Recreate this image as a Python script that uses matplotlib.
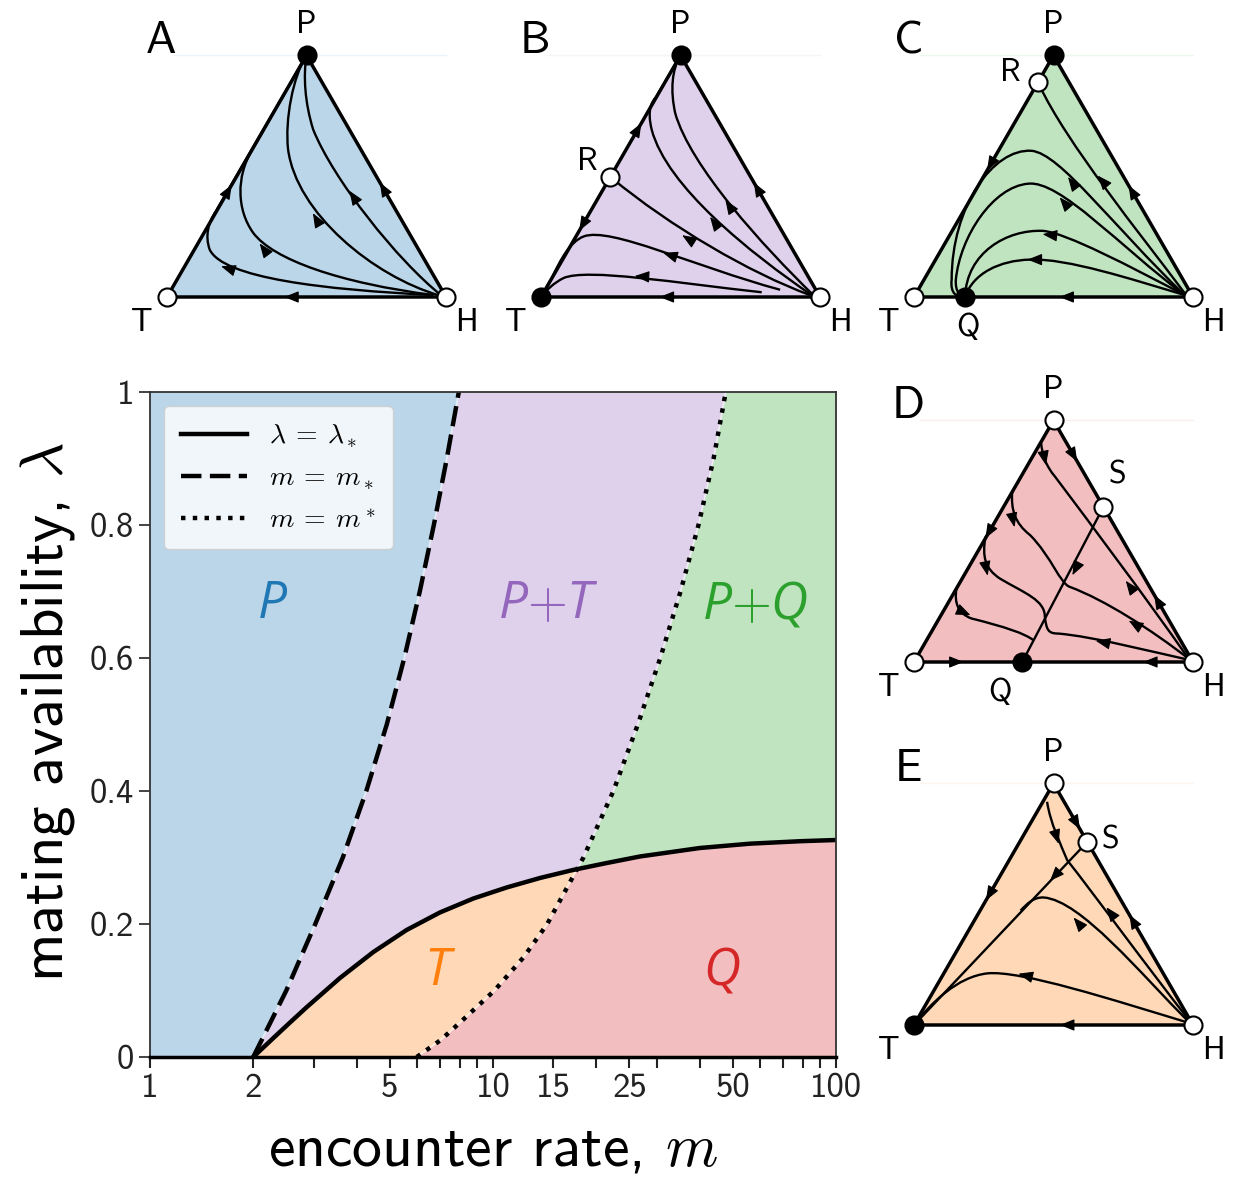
import matplotlib
matplotlib.use('Agg')
import matplotlib.pyplot as plt
import numpy as np
from matplotlib.path import Path
from matplotlib.patches import PathPatch
from matplotlib.colors import to_rgb
from matplotlib.ticker import LogLocator, NullFormatter
from matplotlib import font_manager

plt.rcParams['font.family'] = ['cmss10', 'DejaVu Sans']
plt.rcParams['mathtext.fontset'] = 'cm'
plt.rcParams['axes.unicode_minus'] = False

# --- main diagram data ---
lam_star_m = [2.0, 2.29, 2.56, 2.86, 3.58, 4.48, 5.6, 7.0, 8.76, 10.96, 13.71, 17.1,
              21.45, 26.8, 40.1, 56.2, 78.6, 100]
lam_star_val = [0, 0.0286, 0.0519, 0.0747, 0.1188, 0.1579, 0.191, 0.2173, 0.2383, 0.2549,
                0.2692, 0.2812, 0.2917, 0.3015, 0.3143, 0.3208, 0.3245, 0.3263]

m_low_m = [2.0, 2.497, 3.033, 3.649, 4.272, 4.901, 5.512, 6.117, 6.722, 7.334, 7.949]
m_low_lam = [0, 0.1, 0.2, 0.3, 0.4, 0.5, 0.6, 0.7, 0.8, 0.9, 1.0]

m_up_m = [5.994, 7.018, 7.943, 10.10, 12.28, 14.39, 18.35, 22.44, 26.44, 30.74, 35.21,
          39.73, 43.97, 47.70]
m_up_lam = [0, 0.025, 0.05, 0.1, 0.15, 0.2, 0.3, 0.4, 0.5, 0.6, 0.7, 0.8, 0.9, 1.0]

region_names = ['P', 'P$+$T', 'P$+$Q', 'T', 'Q']
region_m = [2.27, 14.5, 58.0, 6.87, 46.5]
region_lam = [0.68, 0.68, 0.68, 0.128, 0.128]
region_colors = ['tab:blue', 'tab:purple', 'tab:green', 'tab:orange', 'tab:red']

x_ticks = [1, 2, 5, 10, 15, 25, 50, 100]
y_ticks = [0, 0.2, 0.4, 0.6, 0.8, 1]
y_ticklabels = ['0', '0.2', '0.4', '0.6', '0.8', '1']

# --- simplex panels: flows are cubic bezier pieces in triangle coords ---
# T=(0,0), H=(1,0), P=(0.5,0.866)
A_points = [(0.5, 0.866, 'k'), (0, 0, 'w'), (1, 0, 'w')]
A_flows = [
    [(0.955, 0.007), [(0.560, 0.026), (0.201, 0.068), (0.153, 0.170)],
     [(0.136, 0.218), (0.147, 0.266), (0.175, 0.307)], [(0.5, 0.866)]],
    [(0.955, 0.007), [(0.620, 0.050), (0.380, 0.134), (0.309, 0.230)],
     [(0.249, 0.313), (0.249, 0.433), (0.303, 0.523)], [(0.5, 0.866)]],
    [(0.978, 0.005), [(0.739, 0.074), (0.464, 0.301), (0.434, 0.529)],
     [(0.422, 0.636), (0.452, 0.792), (0.5, 0.866)]],
    [(0.984, 0.005), [(0.823, 0.134), (0.596, 0.421), (0.524, 0.600)],
     [(0.494, 0.696), (0.488, 0.792), (0.5, 0.866)]],
]
A_arrows = [(0.213, 0.104, -0.95, 0.3), (0.344, 0.176, -0.6, 0.8), (0.533, 0.283, -0.5, 0.87),
            (0.665, 0.364, -0.55, 0.83), (0.222, 0.385, 0.5, 0.866), (0.773, 0.393, -0.5, 0.866),
            (0.44, 0, -1, 0)]
A_labels = []

B_points = [(0.5, 0.866, 'k'), (0, 0, 'k'), (1, 0, 'w'), (0.248, 0.430, 'w')]
B_flows = [
    [(0.964, 0.007), [(0.749, 0.086), (0.463, 0.253), (0.254, 0.426)]],
    [(0.857, 0.026), [(0.547, 0.110), (0.248, 0.253), (0.153, 0.217)],
     [(0.105, 0.199), (0.069, 0.134), (0.039, 0.068)], [(0.0, 0.0)]],
    [(0.791, 0.017), [(0.487, 0.050), (0.165, 0.104), (0.081, 0.068)],
     [(0.045, 0.050), (0.021, 0.026), (0.0, 0.0)]],
    [(0.970, 0.007), [(0.749, 0.158), (0.451, 0.396), (0.397, 0.599)],
     [(0.379, 0.671), (0.397, 0.700), (0.412, 0.716)], [(0.5, 0.866)]],
    [(0.976, 0.007), [(0.797, 0.181), (0.535, 0.468), (0.481, 0.659)],
     [(0.463, 0.742), (0.469, 0.814), (0.5, 0.866)]],
]
B_arrows = [(0.523, 0.211, -0.85, 0.53), (0.457, 0.152, -0.95, 0.3), (0.356, 0.074, -1, 0.06),
            (0.618, 0.271, -0.6, 0.8), (0.672, 0.331, -0.55, 0.83), (0.35, 0.606, 0.5, 0.866),
            (0.147, 0.255, -0.5, -0.866), (0.773, 0.393, -0.5, 0.866), (0.445, 0, -1, 0)]
B_labels = [('R', 0.165, 0.484)]

C_points = [(0.5, 0.866, 'k'), (0.445, 0.771, 'w'), (0, 0, 'w'), (0.183, 0, 'k'), (1, 0, 'w')]
C_flows = [
    [(0.970, 0.014), [(0.809, 0.229), (0.547, 0.551), (0.449, 0.760)]],
    [(0.970, 0.007), [(0.714, 0.253), (0.523, 0.516), (0.421, 0.524)],
     [(0.284, 0.533), (0.135, 0.325), (0.135, 0.062)],
     [(0.129, 0.014), (0.153, -0.004), (0.183, 0.0)]],
    [(0.970, 0.007), [(0.737, 0.181), (0.523, 0.420), (0.409, 0.406)],
     [(0.284, 0.396), (0.165, 0.217), (0.150, 0.062)],
     [(0.147, 0.020), (0.165, 0.002), (0.183, 0.0)]],
    [(0.970, 0.007), [(0.773, 0.110), (0.547, 0.229), (0.463, 0.237)],
     [(0.332, 0.243), (0.188, 0.158), (0.183, 0.0)]],
    [(0.970, 0.007), [(0.785, 0.062), (0.547, 0.140), (0.415, 0.134)],
     [(0.308, 0.131), (0.212, 0.086), (0.183, 0.0)]],
]
C_arrows = [(0.672, 0.420, -0.65, 0.76), (0.564, 0.414, -0.6, 0.8), (0.535, 0.342, -0.65, 0.76),
            (0.481, 0.223, -0.97, 0.1), (0.427, 0.134, -1, 0), (0.272, 0.471, -0.5, -0.866),
            (0.779, 0.383, -0.5, 0.866), (0.541, 0, -1, 0)]
C_labels = [('R', 0.344, 0.803), ('Q', 0.194, -0.111)]

D_points = [(0.5, 0.866, 'w'), (0.679, 0.556, 'w'), (0, 0, 'w'), (0.388, 0, 'k'), (1, 0, 'w')]
D_flows = [
    [(0.455, 0.790), [(0.460, 0.737), (0.475, 0.701), (0.505, 0.665)],
     [(0.649, 0.473), (0.829, 0.234), (0.984, 0.012)]],
    [(0.352, 0.611), [(0.347, 0.545), (0.362, 0.497), (0.416, 0.455)],
     [(0.493, 0.377), (0.523, 0.281), (0.559, 0.269)],
     [(0.685, 0.222), (0.853, 0.114), (0.984, 0.012)]],
    [(0.256, 0.449), [(0.244, 0.377), (0.254, 0.335), (0.308, 0.299)],
     [(0.398, 0.246), (0.469, 0.222), (0.469, 0.162)],
     [(0.475, 0.114), (0.481, 0.102), (0.517, 0.102)],
     [(0.649, 0.090), (0.829, 0.042), (0.984, 0.008)]],
    [(0.152, 0.263), [(0.144, 0.210), (0.158, 0.174), (0.206, 0.156)],
     [(0.326, 0.126), (0.398, 0.102), (0.428, 0.078)]],
    [(0.679, 0.556), [(0.388, 0.0)]],
]
D_arrows = [(0.469, 0.725, 0.2, -0.98), (0.771, 0.275, -0.6, 0.8), (0.356, 0.503, 0.2, -0.98),
            (0.787, 0.138, -0.85, 0.5), (0.260, 0.329, 0.2, -0.98), (0.671, 0.072, -0.97, 0.2),
            (0.184, 0.176, 0.9, -0.4), (0.577, 0.329, -0.46, -0.89), (0.575, 0.736, 0.5, -0.866),
            (0.871, 0.223, -0.5, 0.866), (0.266, 0.461, -0.5, -0.866), (0.158, 0, 1, 0),
            (0.841, 0, -1, 0)]
D_labels = [('S', 0.728, 0.670), ('Q', 0.308, -0.108)]

E_points = [(0.5, 0.866, 'w'), (0.621, 0.656, 'w'), (0, 0, 'k'), (1, 0, 'w')]
E_flows = [
    [(0.477, 0.800), [(0.489, 0.722), (0.525, 0.650), (0.549, 0.591)],
     [(0.644, 0.471), (0.835, 0.209), (0.990, 0.012)]],
    [(0.984, 0.012), [(0.811, 0.185), (0.597, 0.447), (0.465, 0.457)],
     [(0.430, 0.459), (0.406, 0.436), (0.382, 0.410)]],
    [(0.984, 0.008), [(0.716, 0.089), (0.382, 0.197), (0.263, 0.185)],
     [(0.155, 0.173), (0.060, 0.078), (0.0, 0.0)]],
    [(0.621, 0.656), [(0.0, 0.0)]],
]
E_arrows = [(0.501, 0.531, -0.68, -0.73), (0.513, 0.668, 0.3, -0.95), (0.702, 0.406, -0.6, 0.8),
            (0.585, 0.370, -0.65, 0.76), (0.394, 0.179, -0.97, 0.25), (0.585, 0.719, 0.5, -0.866),
            (0.782, 0.378, -0.5, 0.866), (0.268, 0.464, -0.5, -0.866), (0.543, 0, -1, 0)]
E_labels = [('S', 0.703, 0.663)]


def light(c, a=0.3):
    """blend a colour onto white like alpha=a would"""
    r = np.array(to_rgb(c))
    return tuple(a * r + (1 - a))


def has_font(name):
    try:
        font_manager.findfont(font_manager.FontProperties(family=name), fallback_to_default=False)
        return True
    except Exception:
        return False


def flow_path(spec):
    verts = [spec[0]]
    codes = [Path.MOVETO]
    for seg in spec[1:]:
        verts += seg
        codes += [Path.CURVE4] * 3 if len(seg) == 3 else [Path.LINETO]
    return Path(verts, codes)


def add_arrow(ax, u, v, du, dv):
    n = np.hypot(du, dv)
    du, dv = du / n, dv / n
    e = 0.02
    ax.annotate('', xy=(u + du * e, v + dv * e), xytext=(u - du * e, v - dv * e),
                arrowprops=dict(arrowstyle='-|>,head_length=0.75,head_width=0.3', color='k',
                                lw=0.8, shrinkA=0, shrinkB=0, mutation_scale=12),
                zorder=4)


W, H = 1233, 1177
S = 279.0  # px per unit side


def simplex_panel(fig, tx, ty, letter, color, points, flows, arrows, labels):
    ax = fig.add_axes([(tx - 0.12 * S) / W, (H - ty - 0.16 * S) / H, 1.24 * S / W, 1.12 * S / H])
    ax.set_xlim(-0.12, 1.12)
    ax.set_ylim(-0.16, 0.96)
    ax.axis('off')
    top = np.sqrt(3) / 2
    ax.fill([0, 1, 0.5], [0, 0, top], color=light(color), lw=0, zorder=0)
    ax.plot([0.02, 1.0], [top, top], color=color, alpha=0.08, lw=1, zorder=0)
    for spec in flows:
        ax.add_patch(PathPatch(flow_path(spec), fc='none', ec='k', lw=1.7, zorder=2))
    ax.plot([0, 1, 0.5, 0], [0, 0, top, 0], color='k', lw=2.5, zorder=3, solid_joinstyle='round')
    for a in arrows:
        add_arrow(ax, *a)
    for (u, v, fc) in points:
        ax.plot(u, v, 'o', ms=13, mfc=fc, mec='k', mew=1.5, zorder=5, clip_on=False)
    ax.text(-0.02, 0.915, letter, fontsize=33, ha='center', va='center')
    ax.text(0.5, 0.975, 'P', fontsize=23, ha='center', va='center')
    ax.text(-0.09, -0.093, 'T', fontsize=23, ha='center', va='center')
    ax.text(1.072, -0.093, 'H', fontsize=23, ha='center', va='center')
    for (name, u, v) in labels:
        ax.text(u, v, name, fontsize=23, ha='center', va='center')
    return ax


fig = plt.figure(figsize=(W / 100, H / 100), dpi=100)

# --- main bifurcation diagram ---
ax = fig.add_axes([150 / W, (H - 1057) / H, 686 / W, 665 / H])
ax.set_xscale('log')
ax.fill_between([1, 100], 0, 1, color=light('tab:purple'), lw=0, zorder=0)
ax.fill_betweenx(m_low_lam, 1, m_low_m, color=light('tab:blue'), lw=0, zorder=0.1)
ax.fill_betweenx(m_up_lam, m_up_m, 100, color=light('tab:green'), lw=0, zorder=0.1)
low = ax.fill_between(lam_star_m, 0, lam_star_val, color=light('tab:orange'), lw=0, zorder=0.2)
red = ax.fill_betweenx(m_up_lam, m_up_m, 100, color=light('tab:red'), lw=0, zorder=0.3)
red.set_clip_path(low.get_paths()[0], ax.transData)

ax.plot(m_low_m, m_low_lam, color='w', lw=1.2, alpha=0.6, zorder=1)
ax.plot(m_up_m, m_up_lam, color='w', lw=1.2, alpha=0.6, zorder=1)
ax.plot(lam_star_m, lam_star_val, 'k-', lw=3.2, label=r'$\lambda\:=\:\lambda_*$', zorder=2)
ax.plot(m_low_m, m_low_lam, 'k--', lw=3.2, dashes=(4.6, 1.9), label=r'$m\:=\:m_*$', zorder=2)
ax.plot(m_up_m, m_up_lam, 'k:', lw=3.2, label=r'$m\:=\:m^*$', zorder=2)

region_font = 'Open Sans' if has_font('Open Sans') else 'DejaVu Sans'
for name, mx, ly, c in zip(region_names, region_m, region_lam, region_colors):
    ax.text(mx, ly, name, color=c, fontsize=37, ha='center', va='center',
            family=[region_font, 'DejaVu Sans'], style='italic')

ax.set_xlim(1, 100)
ax.set_ylim(0, 1)
ax.set_xticks(x_ticks)
ax.set_xticklabels([str(t) for t in x_ticks])
ax.xaxis.set_minor_locator(LogLocator(base=10, subs=np.arange(2, 10)))
ax.xaxis.set_minor_formatter(NullFormatter())
ax.set_yticks(y_ticks)
ax.set_yticklabels(y_ticklabels)
ax.tick_params(axis='both', which='both', direction='out', length=8, width=1.2,
               labelsize=25, colors='#222222')
ax.tick_params(axis='x', which='both', width=1.5)
for side in ['left', 'top', 'right']:
    ax.spines[side].set_linewidth(1.3)
    ax.spines[side].set_color('#333333')
ax.spines['bottom'].set_linewidth(2.5)

ax.set_xlabel('encounter rate, $m$', fontsize=43)
ax.xaxis.set_label_coords(0.5, -0.14)
ax.xaxis.label.set_va('center')
fig.text(48 / W, 1 - 712 / H, r'mating availability, $\lambda$', fontsize=44,
         rotation=90, rotation_mode='anchor', ha='center', va='center')

leg = ax.legend(loc='upper left', fontsize=20, handlelength=2.4, labelspacing=0.55,
                borderpad=0.6, fancybox=True)
leg.get_frame().set_alpha(0.8)

# --- phase portraits ---
simplex_panel(fig, 167, 297, 'A', 'tab:blue', A_points, A_flows, A_arrows, A_labels)
simplex_panel(fig, 541, 297, 'B', 'tab:purple', B_points, B_flows, B_arrows, B_labels)
simplex_panel(fig, 914, 297, 'C', 'tab:green', C_points, C_flows, C_arrows, C_labels)
simplex_panel(fig, 914, 662, 'D', 'tab:red', D_points, D_flows, D_arrows, D_labels)
simplex_panel(fig, 914, 1025, 'E', 'tab:orange', E_points, E_flows, E_arrows, E_labels)

fig.savefig('out.png', dpi=100)
